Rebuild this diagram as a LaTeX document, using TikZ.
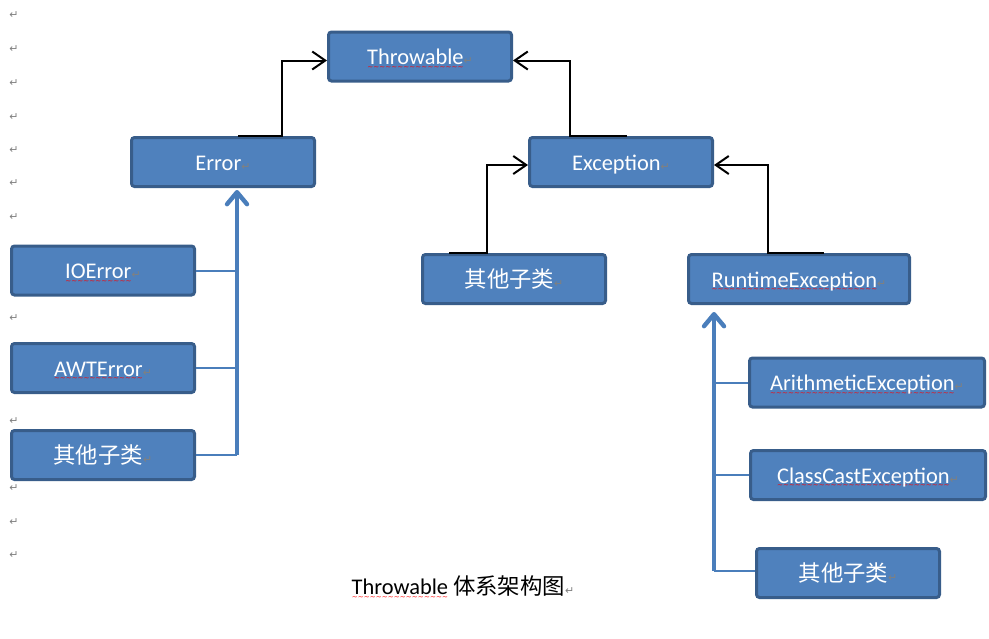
\documentclass[tikz,border=0pt]{standalone}
\usepackage{fontspec}
\setmainfont{Carlito}
\newfontfamily\cjk{Noto Sans CJK SC}
\newfontfamily\symf{DejaVu Sans}
\usetikzlibrary{arrows.meta,calc}
\definecolor{sky}{RGB}{79,129,189}
\definecolor{navy}{RGB}{56,93,138}
\definecolor{stem}{RGB}{74,126,187}
\newcommand{\pmark}{{\symf\fontsize{5.5}{6}\selectfont\color{gray}↵}}
% red spell-check wave under a word
\newcommand{\squig}[1]{\setbox0\hbox{#1}\rlap{\raisebox{-2.4pt}[0pt][0pt]{\hbox to \wd0{%
  \color{red}\symf\fontsize{3.5}{4}\selectfont\xleaders\hbox{∼}\hfill}}}\box0\relax}
\tikzset{
  box/.style={draw=navy,fill=sky,line width=1.5pt,rounded corners=1.5pt,
    minimum width=#1,minimum height=24.5pt,inner sep=0pt,text=white,
    text height=8.1pt,text depth=0pt,font=\fontsize{11.2}{13}\selectfont},
  box/.default=91.5pt,
  isa/.style={-{Straight Barb[length=6.5pt,width=9pt]},line width=1pt,draw=black},
  trunk/.style={-{Straight Barb[length=6pt,width=10pt,round]},line width=2.2pt,
    draw=stem,shorten >=1pt},
  branch/.style={line width=1pt,draw=stem},
  pmk/.style={font=\symf\fontsize{5.5}{6}\selectfont,text=gray,inner sep=0pt},
  caption/.style={font=\fontsize{11.2}{13}\selectfont,text=black,inner sep=0pt},
}

\begin{document}
\begin{tikzpicture}[x=0.5pt,y=-0.5pt]
  \useasboundingbox (0,0) rectangle (989,638);
  % paragraph marks down the margin
  \foreach \y [count=\i] in {15,49,83,117,150,183,217,318,421,488,522,555}
    \node[pmk] (pm\i) at (14,\y) {↵};

  \node[box] (thr) at (420,56.5) {\squig{Throwable}\pmark};
  \node[box] (err) at (223,162) {Error\pmark};
  \node[box] (exc) at (621,162) {Exception\pmark};
  \node[box] (oth) at (514,279) {{\cjk 其他子类}\pmark};
  \node[box=110.5pt] (rte) at (799,279) {\squig{RuntimeException}\pmark};

  \node[box] (ioe) at (103,270.5) {\squig{IOError}\pmark};
  \node[box] (awt) at (103,368) {\squig{AWTError}\pmark};
  \node[box] (eoth) at (103,455) {{\cjk 其他子类}\pmark};

  \node[box=117.5pt] (ari) at (867,382.5) {\squig{ArithmeticException}\pmark};
  \node[box=117.5pt] (cce) at (868,475) {\squig{ClassCastException}\pmark};
  \node[box] (roth) at (848,573) {{\cjk 其他子类}\pmark};

  \node[caption] (cap) at (463,586) {\squig{Throwable} {\cjk 体系架构图}\pmark};

  % inheritance up to Throwable / Exception
  \draw[isa] ($(err.north)+(15,0)$) -- ++(44,0) |- ($(thr.west)+(0,4)$);
  \draw[isa] ($(exc.north)+(6,0)$) -- ++(-57,0) |- ($(thr.east)+(0,4)$);
  \draw[isa] ($(oth.north)+(-65,0)$) -- ++(38,0) |- ($(exc.west)+(0,3)$);
  \draw[isa] ($(rte.north)+(25,0)$) -- ++(-56,0) |- ($(exc.east)+(0,3)$);

  % Error subclasses
  \coordinate (lfoot) at ($(eoth.east)+(41,0)$);
  \foreach \n in {ioe,awt,eoth}
    \draw[branch] (\n.east) -- (\n.east -| lfoot);
  \draw[trunk] (lfoot) -- (lfoot |- err.south);

  % RuntimeException subclasses
  \coordinate (rfoot) at ($(roth.west)+(-41,-2)$);
  \foreach \n in {ari,cce}
    \draw[branch] (\n.west) -- (\n.west -| rfoot);
  \draw[branch] (rfoot) -- (rfoot -| roth.west);
  \draw[trunk,shorten >=3.5pt] (rfoot) -- (rfoot |- rte.south);
\end{tikzpicture}
\end{document}
